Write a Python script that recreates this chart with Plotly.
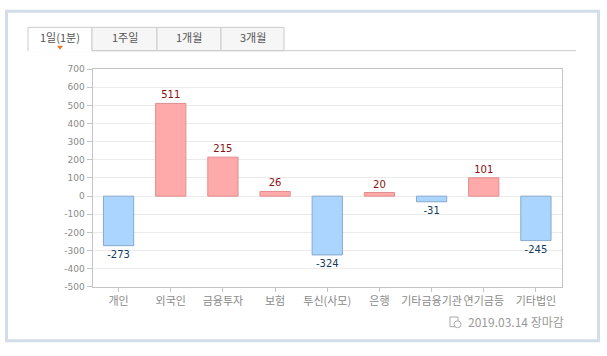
import plotly.graph_objects as go

categories = ["개인", "외국인", "금융투자", "보험", "투신(사모)", "은행", "기타금융기관", "연기금등", "기타법인"]
values = [-273, 511, 215, 26, -324, 20, -31, 101, -245]
y_ticks = [700, 600, 500, 400, 300, 200, 100, 0, -100, -200, -300, -400, -500]
tabs = ["1일(1분)", "1주일", "1개월", "3개월"]
footer = "2019.03.14 장마감"

W, H = 607, 356
def X(p): return p / W
def Y(p): return 1 - p / H

KFONT = "Noto Sans CJK KR, Dotum, sans-serif"

pos_fill, pos_line, pos_text = "#ffaaaa", "#e28c8c", "#8b1010"
neg_fill, neg_line, neg_text = "#aad5ff", "#86a9cc", "#143c5e"

fills = [pos_fill if v >= 0 else neg_fill for v in values]
lines = [pos_line if v >= 0 else neg_line for v in values]
tcols = [pos_text if v >= 0 else neg_text for v in values]

fig = go.Figure(go.Bar(
    x=categories, y=values, width=0.58,
    marker=dict(color=fills, line=dict(color=lines, width=1)),
    text=[str(v) for v in values], textposition="outside",
    textfont=dict(color=tcols, size=10, family="DejaVu Sans, sans-serif"),
    cliponaxis=False, hoverinfo="skip",
))

shapes = []
# outer frame
shapes.append(dict(type="rect", xref="paper", yref="paper",
                   x0=X(6.5), x1=X(598.5), y0=Y(6.5), y1=Y(345.5),
                   line=dict(color="#d3dde8", width=3), fillcolor="white", layer="below"))
# tabs
tab_edges = [28, 92, 157, 221, 284]
for i in range(4):
    shapes.append(dict(type="rect", xref="paper", yref="paper",
                       x0=X(tab_edges[i]), x1=X(tab_edges[i + 1]), y0=Y(47), y1=Y(23),
                       line=dict(color="#cccccc", width=1),
                       fillcolor="white" if i == 0 else "#f6f6f6", layer="below"))
# tab baseline
shapes.append(dict(type="line", xref="paper", yref="paper",
                   x0=X(92), x1=X(576), y0=Y(47), y1=Y(47),
                   line=dict(color="#cccccc", width=1)))
# erase bottom of selected tab
shapes.append(dict(type="line", xref="paper", yref="paper",
                   x0=X(28.5), x1=X(91.5), y0=Y(47), y1=Y(47),
                   line=dict(color="white", width=1.5)))
# orange triangle
shapes.append(dict(type="path", xref="paper", yref="paper",
                   path=f"M {X(57)},{Y(42)} L {X(63)},{Y(42)} L {X(60)},{Y(46)} Z",
                   fillcolor="#e87722", line=dict(width=0)))
# footer icon
shapes.append(dict(type="rect", xref="paper", yref="paper",
                   x0=X(450), x1=X(458), y0=Y(331), y1=Y(321),
                   line=dict(color="#a8a8a8", width=1), fillcolor="white"))
shapes.append(dict(type="circle", xref="paper", yref="paper",
                   x0=X(454), x1=X(461), y0=Y(332), y1=Y(325),
                   line=dict(color="#a8a8a8", width=1), fillcolor="white"))

annotations = []
for i, t in enumerate(tabs):
    annotations.append(dict(text=t, xref="paper", yref="paper",
                            x=X((tab_edges[i] + tab_edges[i + 1]) / 2), y=Y(33),
                            showarrow=False, xanchor="center", yanchor="middle",
                            font=dict(family=KFONT, size=11, color="#555555")))
annotations.append(dict(text=footer, xref="paper", yref="paper",
                        x=X(466), y=Y(325.5), showarrow=False, xanchor="left", yanchor="middle",
                        font=dict(family=KFONT, size=12, color="#9a9a9a")))

fig.update_layout(
    width=W, height=H, margin=dict(l=0, r=0, t=0, b=0),
    paper_bgcolor="white", plot_bgcolor="white",
    showlegend=False, shapes=shapes, annotations=annotations,
    xaxis=dict(domain=[X(92.5), X(562)], tickangle=0,
               showline=True, linecolor="#c4c4c4", linewidth=1, mirror=True,
               ticks="outside", ticklen=4, tickcolor="#c4c4c4",
               tickfont=dict(family=KFONT, size=11, color="#8a8a8a"),
               showgrid=False, fixedrange=True),
    yaxis=dict(domain=[Y(290), Y(66)], range=[-500, 700],
               tickvals=y_ticks, ticktext=[str(v) for v in y_ticks],
               showline=True, linecolor="#c4c4c4", linewidth=1, mirror=True,
               ticks="outside", ticklen=5, tickcolor="#c4c4c4",
               tickfont=dict(family="DejaVu Sans, sans-serif", size=9, color="#8a8a8a"),
               showgrid=True, gridcolor="#ebebeb", gridwidth=1,
               zeroline=False, fixedrange=True),
    bargap=0.42,
)

fig.write_html("out.html", config={"displayModeBar": False},
               post_script="document.body.style.margin='0';document.body.style.overflow='hidden';")
